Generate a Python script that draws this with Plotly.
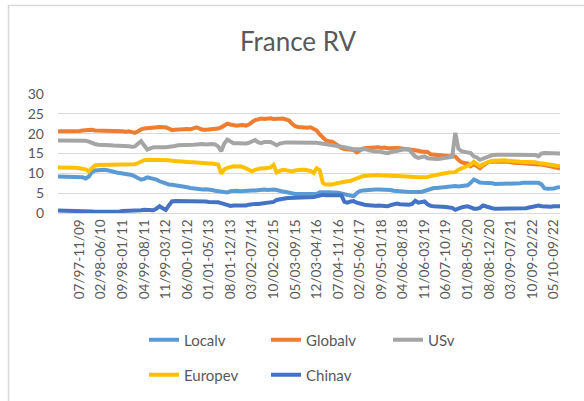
import plotly.graph_objects as go

# ---------------- data ----------------
series_names = ["Localv", "Globalv", "USv", "Europev", "Chinav"]
series_colors = ["#5B9BD5", "#ED7D31", "#A5A5A5", "#FFC000", "#4472C4"]

tick_labels = ["07/97-11/09", "02/98-06/10", "09/98-01/11", "04/99-08/11", "11/99-03/12",
               "06/00-10/12", "01/01-05/13", "08/01-12/13", "03/02-07/14", "10/02-02/15",
               "05/03-09/15", "12/03-04/16", "07/04-11/16", "02/05-06/17", "09/05-01/18",
               "04/06-08/18", "11/06-03/19", "06/07-10/19", "01/08-05/20", "08/08-12/20",
               "03/09-07/21", "10/09-02/22", "05/10-09/22"]

localv = [9.2, 9.2, 9.2, 9.1, 9.2, 9.2, 9.2, 9.1, 9.0, 8.7,
          9.2, 10.3, 10.7, 10.8, 10.9, 10.9, 10.8, 10.7, 10.4, 10.2,
          10.1, 10.0, 10.0, 9.8, 9.6, 9.2, 8.8, 8.4, 8.6, 9.0,
          8.8, 8.7, 8.4, 8.0, 7.7, 7.5, 7.2, 7.1, 7.0, 7.0,
          6.9, 6.7, 6.5, 6.3, 6.2, 6.0, 5.9, 5.9, 6.0, 6.0,
          5.8, 5.6, 5.5, 5.4, 5.3, 5.2, 5.5, 5.6, 5.6, 5.5,
          5.6, 5.6, 5.7, 5.7, 5.7, 5.8, 5.9, 5.9, 5.8, 5.9,
          5.9, 5.8, 5.5, 5.4, 5.3, 5.1, 4.9, 4.8, 4.8, 4.8,
          4.8, 4.7, 4.7, 4.6, 4.8, 5.2, 5.3, 5.2, 5.2, 5.2,
          5.1, 5.1, 4.9, 4.7, 4.5, 4.3, 4.2, 5.0, 5.5, 5.7,
          5.8, 5.9, 5.9, 5.9, 5.9, 5.9, 5.8, 5.9, 5.8, 5.6,
          5.5, 5.4, 5.3, 5.3, 5.3, 5.3, 5.4, 5.3, 5.3, 5.6,
          5.9, 6.2, 6.3, 6.3, 6.4, 6.6, 6.7, 6.7, 6.7, 6.8,
          6.7, 6.8, 6.9, 7.0, 7.6, 8.4, 8.1, 7.7, 7.6, 7.6,
          7.6, 7.5, 7.3, 7.3, 7.3, 7.3, 7.4, 7.3, 7.4, 7.4,
          7.5, 7.6, 7.6, 7.6, 7.6, 7.7, 7.6, 7.2, 6.2, 6.1,
          6.1, 6.2, 6.4, 6.6]

globalv = [20.6, 20.6, 20.5, 20.6, 20.6, 20.6, 20.7, 20.7, 20.8, 20.9,
           21.1, 21.0, 20.8, 20.8, 20.7, 20.7, 20.7, 20.6, 20.6, 20.7,
           20.6, 20.6, 20.5, 20.6, 20.4, 20.2, 20.6, 21.1, 21.3, 21.4,
           21.5, 21.6, 21.6, 21.7, 21.6, 21.6, 21.3, 20.9, 21.0, 21.1,
           21.1, 21.1, 21.2, 21.1, 21.3, 21.6, 21.3, 21.0, 21.0, 21.1,
           21.0, 21.1, 21.3, 21.6, 22.0, 22.5, 22.3, 22.1, 22.0, 22.1,
           22.2, 22.0, 22.3, 22.9, 23.4, 23.6, 23.8, 23.7, 23.8, 23.9,
           23.7, 23.8, 23.7, 23.8, 23.6, 23.3, 22.5, 21.9, 21.7, 21.6,
           21.6, 21.5, 21.6, 21.3, 20.8, 19.8, 18.9, 18.3, 18.1, 18.0,
           17.5, 16.8, 16.4, 16.1, 16.0, 16.0, 15.9, 15.3, 15.8, 16.2,
           16.4, 16.5, 16.6, 16.5, 16.6, 16.4, 16.5, 16.3, 16.4, 16.5,
           16.4, 16.3, 16.2, 16.1, 16.1, 16.0, 16.0, 15.7, 15.5, 15.5,
           15.4, 14.8, 14.7, 14.6, 14.6, 14.4, 14.3, 14.3, 14.4, 14.2,
           13.4, 12.8, 12.6, 12.5, 11.8, 12.3, 11.8, 11.3, 12.0, 12.6,
           12.9, 13.0, 13.0, 13.0, 13.1, 13.0, 12.9, 12.8, 12.6, 12.6,
           12.6, 12.5, 12.6, 12.5, 12.3, 12.2, 12.2, 12.2, 12.1, 12.0,
           11.8, 11.6, 11.4, 11.2]

usv = [18.3, 18.3, 18.2, 18.2, 18.1, 18.1, 18.2, 18.2, 18.1, 18.2,
       18.0, 17.6, 17.4, 17.2, 17.2, 17.3, 17.2, 17.1, 17.0, 17.0,
       16.9, 16.8, 16.8, 16.8, 16.7, 16.8, 17.5, 18.1, 17.0, 16.0,
       16.3, 16.6, 16.6, 16.7, 16.6, 16.6, 16.7, 16.6, 16.9, 17.1,
       17.1, 17.2, 17.0, 17.1, 17.2, 17.3, 17.4, 17.4, 17.3, 17.4,
       17.4, 17.3, 16.8, 15.6, 17.5, 18.5, 18.0, 17.6, 17.6, 17.5,
       17.6, 17.5, 17.7, 18.2, 18.4, 17.8, 17.6, 17.9, 18.0, 17.9,
       17.5, 17.1, 17.5, 17.7, 17.8, 17.8, 17.8, 17.8, 17.9, 17.8,
       17.8, 17.8, 17.7, 17.8, 17.7, 17.6, 17.5, 17.4, 17.3, 17.1,
       17.1, 17.0, 16.8, 16.6, 16.4, 16.2, 16.1, 16.1, 16.1, 16.0,
       16.1, 15.8, 15.6, 15.5, 15.5, 15.4, 15.3, 15.1, 15.3, 15.5,
       15.6, 15.8, 16.0, 16.0, 16.0, 15.1, 14.2, 13.9, 14.0, 14.3,
       13.8, 13.7, 13.7, 13.6, 13.7, 13.8, 13.9, 13.9, 14.2, 20.2,
       16.2, 15.6, 15.4, 15.2, 15.1, 14.3, 14.0, 13.4, 13.7, 13.9,
       14.4, 14.6, 14.7, 14.7, 14.8, 14.7, 14.7, 14.7, 14.6, 14.7,
       14.7, 14.6, 14.7, 14.7, 14.6, 14.6, 14.3, 15.0, 15.1, 15.1,
       15.2, 15.1, 15.1, 15.0]

europev = [11.5, 11.5, 11.6, 11.6, 11.6, 11.5, 11.4, 11.3, 11.2, 11.0,
           10.5, 11.4, 12.0, 12.1, 12.1, 12.2, 12.2, 12.1, 12.1, 12.2,
           12.1, 12.2, 12.2, 12.2, 12.3, 12.3, 12.6, 13.0, 13.3, 13.4,
           13.4, 13.4, 13.5, 13.5, 13.4, 13.4, 13.3, 13.2, 13.1, 13.0,
           13.0, 12.9, 12.9, 12.8, 12.8, 12.7, 12.7, 12.6, 12.6, 12.5,
           12.5, 12.4, 12.2, 9.9, 11.0, 11.4, 11.6, 11.8, 11.7, 11.8,
           11.6, 11.3, 11.0, 10.5, 10.9, 11.2, 11.3, 11.2, 11.3, 11.5,
           12.1, 10.2, 10.6, 10.9, 10.8, 10.6, 10.5, 10.7, 10.9, 10.9,
           10.9, 10.8, 10.6, 10.1, 11.3, 10.8, 7.6, 7.2, 7.1, 7.2,
           7.4, 7.6, 7.8, 8.0, 8.0, 8.1, 8.4, 8.9, 9.2, 9.3,
           9.4, 9.5, 9.5, 9.5, 9.6, 9.5, 9.4, 9.3, 9.2, 9.3,
           9.3, 9.3, 9.2, 9.2, 9.1, 9.2, 9.1, 9.0, 9.0, 9.0,
           9.1, 9.3, 9.5, 9.6, 9.8, 10.0, 10.1, 10.2, 10.3, 10.3,
           10.9, 11.2, 11.5, 11.8, 12.2, 12.9, 12.3, 11.8, 12.3, 12.6,
           13.0, 13.2, 13.2, 13.3, 13.2, 13.3, 13.2, 13.2, 13.1, 13.0,
           12.9, 12.9, 12.9, 12.8, 12.9, 12.8, 12.6, 12.4, 12.4, 12.3,
           12.2, 12.0, 11.9, 11.8]

chinav = [0.6, 0.6, 0.6, 0.6, 0.6, 0.5, 0.5, 0.5, 0.5, 0.5,
          0.4, 0.4, 0.3, 0.3, 0.3, 0.2, 0.2, 0.2, 0.3, 0.3,
          0.4, 0.5, 0.5, 0.6, 0.6, 0.6, 0.7, 0.7, 0.8, 0.8,
          0.8, 0.7, 1.1, 1.7, 1.2, 0.8, 1.9, 2.9, 3.0, 3.0,
          3.1, 3.1, 3.0, 3.0, 3.0, 3.0, 3.1, 3.0, 2.9, 2.8,
          2.8, 2.8, 2.7, 2.5, 2.2, 1.9, 1.8, 1.9, 1.9, 1.9,
          1.8, 1.9, 2.1, 2.3, 2.3, 2.3, 2.4, 2.3, 2.4, 2.6,
          2.8, 3.3, 3.5, 3.6, 3.7, 3.8, 3.8, 3.9, 3.9, 3.9,
          4.0, 3.9, 3.9, 4.0, 4.2, 4.5, 4.6, 4.5, 4.5, 4.4,
          4.5, 4.4, 4.5, 2.8, 2.6, 2.9, 3.0, 2.6, 2.3, 2.2,
          2.0, 1.9, 1.9, 1.8, 1.9, 1.8, 1.7, 1.7, 2.0, 2.3,
          2.4, 2.2, 2.1, 2.0, 2.1, 2.3, 3.1, 2.6, 2.8, 2.9,
          2.2, 1.8, 1.7, 1.7, 1.7, 1.6, 1.5, 1.4, 1.3, 0.8,
          1.2, 1.4, 1.6, 1.7, 1.4, 1.1, 1.1, 1.3, 1.9, 1.6,
          1.4, 1.2, 1.1, 1.1, 1.1, 1.0, 1.0, 1.1, 1.1, 1.1,
          1.1, 1.1, 1.2, 1.4, 1.5, 1.7, 1.9, 1.7, 1.6, 1.6,
          1.6, 1.7, 1.7, 1.7]

all_series = [localv, globalv, usv, europev, chinav]

# category labels: rolling 12y4m windows, monthly, first window 12/96-04/09
first_start = 1996 * 12 + 11
window_months = 148
n_points = len(localv)


def fmt(m):
    return f"{m % 12 + 1:02d}/{(m // 12) % 100:02d}"


categories = [fmt(first_start + i) + "-" + fmt(first_start + i + window_months)
              for i in range(n_points)]

# ---------------- figure ----------------
FONT = "Lato, 'Liberation Sans', sans-serif"
TXT = "#595959"
W, H = 584, 401
L, R, T, B = 58, 24, 94, 188
pw, ph = W - L - R, H - T - B


def px_x(x):
    return (x - L) / pw


def px_y(y):
    return (H - B - y) / ph


fig = go.Figure()
for k, (name, vals, col) in enumerate(zip(series_names, all_series, series_colors)):
    fig.add_trace(go.Scatter(
        x=categories, y=vals, name=name, mode="lines",
        line=dict(color=col, width=4),
        legend="legend" if k < 3 else "legend2",
        hoverinfo="x+y+name",
    ))

fig.update_layout(
    width=W, height=H,
    margin=dict(l=L, r=R, t=T, b=B, autoexpand=False),
    paper_bgcolor="white", plot_bgcolor="white",
    font=dict(family=FONT, color=TXT, size=13),
    title=dict(text="France RV", x=px_x(298), xanchor="center", xref="paper",
               y=1 - 42 / H, yanchor="middle",
               font=dict(family=FONT, size=26, color=TXT)),
    xaxis=dict(type="category", categoryorder="array", categoryarray=categories,
               range=[0, n_points - 1], tickmode="array", tickvals=tick_labels,
               ticktext=tick_labels, tickangle=-90, ticks="", showgrid=False,
               showline=True, linecolor="#D9D9D9", linewidth=1, zeroline=False,
               tickfont=dict(size=13.5, color=TXT)),
    yaxis=dict(range=[0, 30], dtick=5, tick0=0, showgrid=True, gridcolor="#D9D9D9",
               gridwidth=1, zeroline=False, showline=False, ticks="",
               ticklabelstandoff=13, tickfont=dict(size=14, color=TXT)),
    legend=dict(orientation="h", x=px_x(144), xanchor="left", y=px_y(340),
                yanchor="middle", entrywidth=77, font=dict(size=15, color=TXT),
                bgcolor="rgba(0,0,0,0)"),
    legend2=dict(orientation="h", x=px_x(144), xanchor="left", y=px_y(375),
                 yanchor="middle", entrywidth=77, font=dict(size=15, color=TXT),
                 bgcolor="rgba(0,0,0,0)"),
    showlegend=True,
    shapes=[dict(type="rect", xref="paper", yref="paper",
                 x0=px_x(8.5), x1=px_x(W + 5), y0=px_y(H + 5), y1=px_y(5.5),
                 line=dict(color="#D9D9D9", width=1.5), layer="below")],
)

fig.write_html("out.html", config={"displayModeBar": False},
               post_script="document.body.style.margin='0';")
